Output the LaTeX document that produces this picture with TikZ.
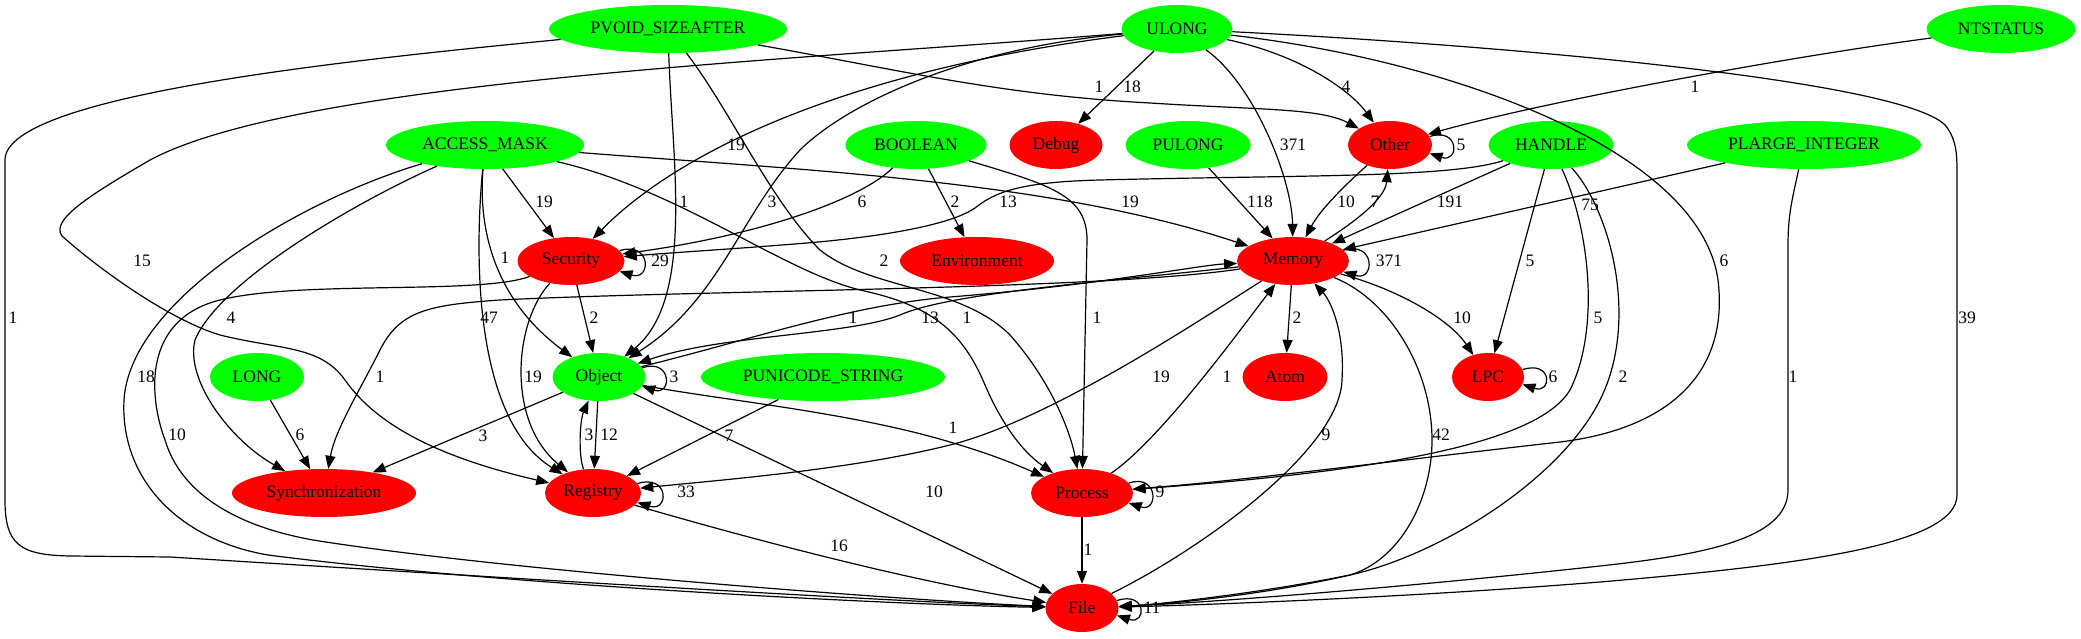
\documentclass[tikz,border=0pt]{standalone}
\usepackage{fontspec}
\setmainfont{Liberation Serif}
\usetikzlibrary{shapes.geometric,arrows.meta}
\definecolor{vert}{RGB}{0,255,0}
\definecolor{rouge}{RGB}{255,0,0}

\begin{document}
\begin{tikzpicture}[x=1pt,y=-1pt,font=\fontsize{17.5}{20}\selectfont,
    nd/.style={ellipse,inner sep=0pt,minimum height=48pt},
    vt/.style={nd,fill=vert},
    rg/.style={nd,fill=rouge},
    conn/.style={line width=1.2pt,-{Triangle[length=13pt,width=10pt]}},
    lbl/.style={inner sep=0pt}]
    \useasboundingbox (0,0) rectangle (2081,639);
    % types (vert)
    \node[vt,minimum width=238pt] (pvoid) at (668,29) {PVOID\_SIZEAFTER};
    \node[vt,minimum width=111pt] (ulong) at (1177,29) {ULONG};
    \node[vt,minimum width=149pt] (ntstatus) at (2001,29) {NTSTATUS};
    \node[vt,minimum width=198pt] (accessmask) at (485,145) {ACCESS\_MASK};
    \node[vt,minimum width=141pt] (boolean) at (916,145) {BOOLEAN};
    \node[vt,minimum width=125pt] (pulong) at (1188,145) {PULONG};
    \node[vt,minimum width=125pt] (handle) at (1551,145) {HANDLE};
    \node[vt,minimum width=234pt] (plarge) at (1804,145) {PLARGE\_INTEGER};
    \node[vt,minimum width=94pt] (long) at (257,377) {LONG};
    \node[vt,minimum width=93pt] (object) at (599,377) {Object};
    \node[vt,minimum width=244pt] (punicode) at (823,377) {PUNICODE\_STRING};
    % categories (rouge)
    \node[rg,minimum width=93pt] (debug) at (1056,145) {Debug};
    \node[rg,minimum width=84pt] (other) at (1390,145) {Other};
    \node[rg,minimum width=107pt] (security) at (571,261) {Security};
    \node[rg,minimum width=154pt] (environment) at (977,261) {Environment};
    \node[rg,minimum width=112pt] (memory) at (1293,261) {Memory};
    \node[rg,minimum width=85pt] (atom) at (1285,377) {Atom};
    \node[rg,minimum width=72pt] (lpc) at (1488,377) {LPC};
    \node[rg,minimum width=184pt] (sync) at (324,493) {Synchronization};
    \node[rg,minimum width=96pt] (registry) at (593,493) {Registry};
    \node[rg,minimum width=102pt] (process) at (1082,493) {Process};
    \node[rg,minimum width=73pt] (file) at (1082,608) {File};
    % arcs PVOID_SIZEAFTER
    \draw[conn] (pvoid) .. controls (350,60) and (5,95) .. (5,160) -- (5,500) .. controls (5,545) and (20,555) .. (70,556) -- (170,557) .. controls (300,565) and (850,600) .. (file) node[lbl] at (13,318) {1};
    \draw[conn] (pvoid) .. controls (900,70) and (1000,95) .. (1150,103) .. controls (1260,110) and (1320,108) .. (other) node[lbl] at (1099,87) {1};
    \draw[conn] (pvoid) .. controls (672,160) and (695,300) .. (object) node[lbl] at (684,202) {1};
    \draw[conn] (pvoid) .. controls (730,110) and (770,200) .. (820,250) .. controls (870,290) and (960,285) .. (1010,335) .. controls (1050,380) and (1070,430) .. (process) node[lbl] at (884,261) {2};
    % arcs ULONG
    \draw[conn] (ulong) .. controls (850,70) and (680,150) .. (security) node[lbl] at (736,145) {19};
    \draw[conn] (ulong) .. controls (800,60) and (300,80) .. (150,160) .. controls (90,195) and (50,220) .. (62,236) .. controls (100,270) and (170,320) .. (220,335) .. controls (280,350) and (320,345) .. (345,380) .. controls (380,430) and (450,460) .. (registry) node[lbl] at (142,261) {15};
    \draw[conn] (ulong) .. controls (950,50) and (840,110) .. (800,150) .. controls (740,215) and (720,300) .. (object) node[lbl] at (772,202) {3};
    \draw[conn] (ulong) -- (debug) node[lbl] at (1132,87) {18};
    \draw[conn] (ulong) .. controls (1255,85) and (1292,180) .. (memory) node[lbl] at (1293,145) {371};
    \draw[conn] (ulong) .. controls (1300,55) and (1350,90) .. (other) node[lbl] at (1346,87) {4};
    \draw[conn] (ulong) .. controls (1450,60) and (1700,150) .. (1718,280) .. controls (1730,380) and (1660,430) .. (1560,442) .. controls (1400,460) and (1250,480) .. (process) node[lbl] at (1724,261) {6};
    \draw[conn] (ulong) .. controls (1500,45) and (1900,80) .. (1945,125) .. controls (1955,137) and (1957,150) .. (1957,170) -- (1957,495) .. controls (1957,545) and (1800,565) .. (1600,582) .. controls (1400,598) and (1200,605) .. (file) node[lbl] at (1967,318) {39};
    \draw[conn] (ntstatus) .. controls (1800,55) and (1550,100) .. (other) node[lbl] at (1695,87) {1};
    % arcs ACCESS_MASK
    \draw[conn] (accessmask) -- (security) node[lbl] at (544,202) {19};
    \draw[conn] (accessmask) .. controls (478,230) and (495,300) .. (object) node[lbl] at (505,258) {1};
    \draw[conn] (accessmask) .. controls (474,260) and (475,420) .. (registry) node[lbl] at (489,318) {47};
    \draw[conn] (accessmask) .. controls (360,200) and (220,280) .. (195,340) .. controls (185,380) and (230,440) .. (sync) node[lbl] at (231,318) {4};
    \draw[conn] (accessmask) .. controls (300,200) and (130,300) .. (124,400) .. controls (120,480) and (180,540) .. (268,555) .. controls (500,585) and (900,605) .. (file) node[lbl] at (146,377) {18};
    \draw[conn] (accessmask) .. controls (800,170) and (1050,180) .. (memory) node[lbl] at (1130,202) {19};
    \draw[conn] (accessmask) .. controls (680,190) and (780,270) .. (860,290) .. controls (930,305) and (962,330) .. (985,385) .. controls (1000,420) and (1020,450) .. (process) node[lbl] at (967,318) {1};
    % arcs BOOLEAN, PULONG
    \draw[conn] (boolean) .. controls (860,200) and (760,235) .. (security) node[lbl] at (862,202) {6};
    \draw[conn] (boolean) -- (environment) node[lbl] at (955,202) {2};
    \draw[conn] (boolean) .. controls (1050,185) and (1087,195) .. (1087,240) -- (process) node[lbl] at (1097,318) {1};
    \draw[conn] (pulong) -- (memory) node[lbl] at (1260,202) {118};
    % arcs HANDLE, PLARGE_INTEGER
    \draw[conn] (handle) .. controls (1450,178) and (1300,175) .. (1100,180) .. controls (1020,182) and (995,192) .. (975,208) .. controls (955,222) and (900,235) .. (807,243) .. controls (720,250) and (680,252) .. (security) node[lbl] at (1008,202) {13};
    \draw[conn] (handle) -- (memory) node[lbl] at (1450,202) {191};
    \draw[conn] (handle) -- (lpc) node[lbl] at (1530,261) {5};
    \draw[conn] (handle) .. controls (1590,230) and (1600,330) .. (1570,390) .. controls (1540,440) and (1400,470) .. (process) node[lbl] at (1598,318) {5};
    \draw[conn] (handle) .. controls (1610,210) and (1640,320) .. (1600,400) .. controls (1560,480) and (1440,555) .. (1350,575) .. controls (1250,595) and (1150,605) .. (file) node[lbl] at (1623,377) {2};
    \draw[conn] (plarge) -- (memory) node[lbl] at (1590,205) {75};
    \draw[conn] (plarge) .. controls (1792,200) and (1788,215) .. (1788,245) -- (1788,490) .. controls (1788,540) and (1700,555) .. (1600,566) .. controls (1400,588) and (1200,603) .. (file) node[lbl] at (1793,377) {1};
    % arcs Other, Memory
    \draw[conn] (other) .. controls (1345,185) and (1320,210) .. (memory) node[lbl] at (1346,202) {10};
    \draw[conn] (memory) .. controls (1350,225) and (1385,200) .. (other) node[lbl] at (1375,202) {7};
    \draw[conn] (memory) -- (atom) node[lbl] at (1297,318) {2};
    \draw[conn] (memory) .. controls (1400,290) and (1450,320) .. (lpc) node[lbl] at (1462,318) {10};
    \draw[conn] (memory) .. controls (1390,300) and (1432,370) .. (1432,440) .. controls (1432,500) and (1400,560) .. (1350,575) .. controls (1250,598) and (1150,605) .. (file) node[lbl] at (1441,435) {42};
    \draw[conn] (file) .. controls (1200,550) and (1340,450) .. (1342,380) .. controls (1345,330) and (1330,300) .. (memory) node[lbl] at (1326,435) {9};
    \draw[conn] (memory) .. controls (1100,290) and (700,290) .. (500,300) .. controls (430,305) and (400,310) .. (380,350) .. controls (360,390) and (335,430) .. (sync) node[lbl] at (380,377) {1};
    \draw[conn] (memory) .. controls (1200,320) and (1050,420) .. (950,445) .. controls (850,470) and (720,480) .. (registry) node[lbl] at (1161,377) {19};
    \draw[conn] (process) .. controls (1160,440) and (1240,330) .. (memory) node[lbl] at (1227,377) {1};
    \draw[conn] (object) .. controls (750,340) and (850,305) .. (950,297) .. controls (1100,285) and (1200,265) .. (memory) node[lbl] at (853,318) {1};
    \draw[conn] (memory) .. controls (1100,282) and (950,293) .. (900,315) .. controls (850,335) and (720,335) .. (object) node[lbl] at (930,318) {13};
    % arcs Security, Object, Registry
    \draw[conn] (security) -- (object) node[lbl] at (594,318) {2};
    \draw[conn] (security) .. controls (515,320) and (505,420) .. (registry) node[lbl] at (533,377) {19};
    \draw[conn] (security) .. controls (480,295) and (300,280) .. (220,300) .. controls (140,320) and (150,400) .. (165,440) .. controls (180,490) and (230,525) .. (313,540) .. controls (500,570) and (900,600) .. (file) node[lbl] at (177,435) {10};
    \draw[conn] (object) -- (sync) node[lbl] at (483,436) {3};
    \draw[conn] (object) -- (registry) node[lbl] at (609,435) {12};
    \draw[conn] (registry) .. controls (578,455) and (580,420) .. (object) node[lbl] at (589,435) {3};
    \draw[conn] (object) .. controls (720,400) and (850,412) .. (950,442) .. controls (990,454) and (1010,462) .. (process) node[lbl] at (953,428) {1};
    \draw[conn] (object) -- (file) node[lbl] at (934,492) {10};
    \draw[conn] (punicode) -- (registry) node[lbl] at (729,436) {7};
    \draw[conn] (long) -- (sync) node[lbl] at (300,435) {6};
    \draw[conn] (registry) .. controls (720,530) and (900,580) .. (file) node[lbl] at (839,546) {16};
    \draw[conn] (process) -- (file) node[lbl] at (1088,550) {1};
    % boucles
    \draw[conn] (other.12) .. controls +(30,-10) and +(30,10) .. (other.-12) node[lbl] at (1461,145) {5};
    \draw[conn] (security.12) .. controls +(32,-10) and +(32,10) .. (security.-12) node[lbl] at (660,261) {29};
    \draw[conn] (memory.12) .. controls +(32,-10) and +(32,10) .. (memory.-12) node[lbl] at (1389,261) {371};
    \draw[conn] (object.12) .. controls +(30,-10) and +(30,10) .. (object.-12) node[lbl] at (674,377) {3};
    \draw[conn] (lpc.12) .. controls +(30,-10) and +(30,10) .. (lpc.-12) node[lbl] at (1553,377) {6};
    \draw[conn] (registry.12) .. controls +(32,-10) and +(32,10) .. (registry.-12) node[lbl] at (686,492) {33};
    \draw[conn] (process.12) .. controls +(30,-10) and +(30,10) .. (process.-12) node[lbl] at (1160,492) {9};
    \draw[conn] (file.12) .. controls +(30,-10) and +(30,10) .. (file.-12) node[lbl] at (1152,608) {11};
\end{tikzpicture}
\end{document}
